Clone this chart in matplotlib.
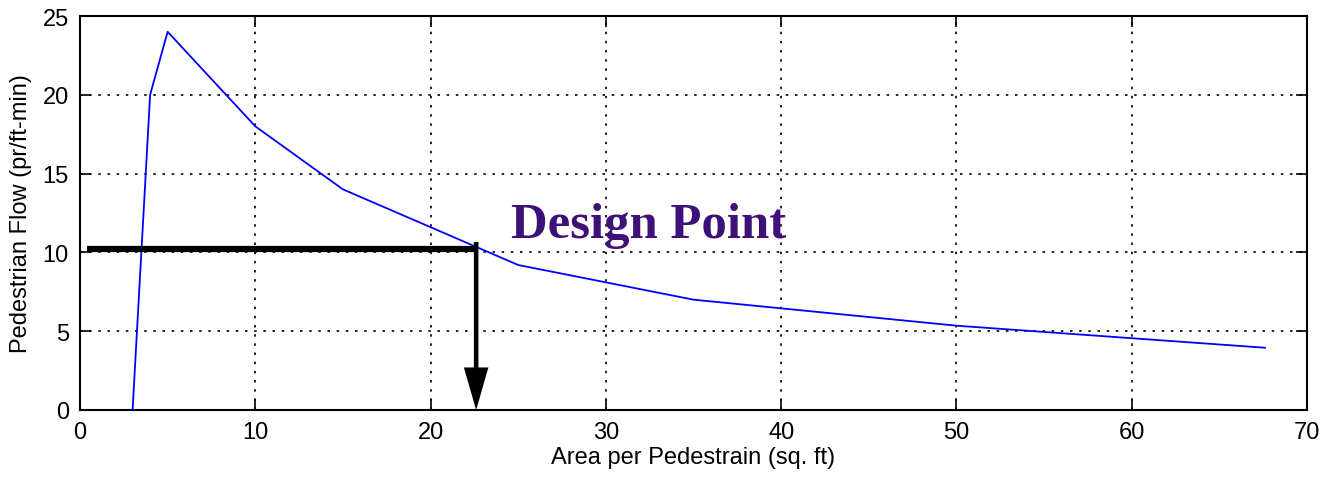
import matplotlib
matplotlib.use("Agg")
import matplotlib.pyplot as plt
from matplotlib import font_manager

# Data
area = [3, 4, 5, 10, 15, 25, 35, 50, 67.6]
flow = [0, 20, 24, 18, 14, 9.2, 7.0, 5.35, 3.95]
design_area = 22.6
design_flow = 10.2
design_top = 10.66
x_ticks = [0, 10, 20, 30, 40, 50, 60, 70]
y_ticks = [0, 5, 10, 15, 20, 25]

names = {f.name for f in font_manager.fontManager.ttflist}
fam = "Liberation Sans Narrow" if "Liberation Sans Narrow" in names else "Liberation Sans"
plt.rcParams['font.family'] = [fam, 'DejaVu Sans']

fig = plt.figure(figsize=(13.24, 4.81), dpi=100)
ax = fig.add_axes([80/1324, 1-411/481, (1307-80)/1324, (411-17)/481])

ax.plot(area, flow, color='#0000ff', lw=1.3, zorder=3)

# Design point lines
ax.plot([0.4, design_area], [design_flow, design_flow], color='black', lw=4.5,
        solid_capstyle='butt', zorder=4)
ax.arrow(design_area, design_top, 0, -design_top, width=0.26, head_width=1.4,
         head_length=2.7, length_includes_head=True, color='black', lw=0,
         zorder=4)
ax.text(24.6, 11.0, 'Design Point', family=['Liberation Serif', 'DejaVu Serif'],
        fontweight='bold', fontsize=36.5, color='#3d1178', zorder=5)

ax.set_xlim(0, 70)
ax.set_ylim(0, 25)
ax.set_xticks(x_ticks)
ax.set_yticks(y_ticks)
ax.tick_params(direction='in', top=True, right=True, labelsize=17, length=8, width=1.2, pad=8)
ax.grid(True, color='black', linestyle=(0, (1.5, 4)), linewidth=1.2)
for s in ax.spines.values():
    s.set_linewidth(1.5)
ax.set_xlabel('Area per Pedestrain (sq. ft)', fontsize=17, labelpad=2)
ax.set_ylabel('Pedestrian Flow (pr/ft-min)', fontsize=17, labelpad=8)

fig.savefig('out.png', dpi=100)
